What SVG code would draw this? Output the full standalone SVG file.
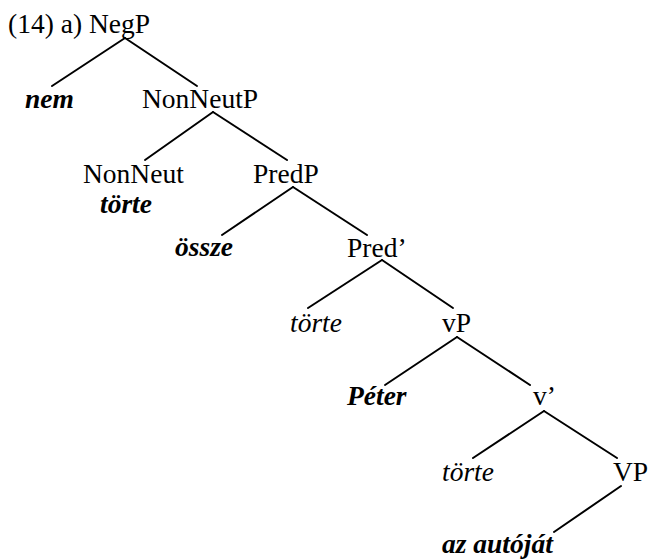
<svg xmlns="http://www.w3.org/2000/svg" width="650" height="560" viewBox="0 0 650 560">
<style>
text{font-family:"Liberation Serif","Times New Roman",serif;font-size:27.5px;fill:#000}
.bi{font-weight:bold;font-style:italic}
.i{font-style:italic}
.e line{stroke:#000;stroke-width:2;stroke-linecap:round}
</style>
<rect width="650" height="560" fill="#fff"/>
<g id="connectors" class="e">
<line x1="125" y1="38" x2="52" y2="86"/>
<line x1="125" y1="38" x2="197" y2="86"/>
<line x1="213" y1="112" x2="145" y2="160"/>
<line x1="213" y1="112" x2="287" y2="160"/>
<line x1="293" y1="187" x2="222" y2="235"/>
<line x1="293" y1="187" x2="367" y2="235"/>
<line x1="382" y1="260" x2="308" y2="308"/>
<line x1="382" y1="260" x2="453" y2="308"/>
<line x1="457" y1="337" x2="385" y2="385"/>
<line x1="457" y1="337" x2="530" y2="385"/>
<line x1="544" y1="411" x2="473" y2="458"/>
<line x1="544" y1="411" x2="617" y2="458"/>
<line x1="621" y1="486" x2="554" y2="532"/>
</g>
<g id="label"><text x="8" y="33">(14) a) NegP</text></g>
<g id="nem"><text class="bi" x="25" y="108">nem</text></g>
<g id="NonNeutP"><text x="142" y="108">NonNeutP</text></g>
<g id="NonNeut"><text x="83" y="183">NonNeut</text><text class="bi" x="100" y="213">törte</text></g>
<g id="PredP"><text x="253" y="183">PredP</text></g>
<g id="ossze"><text class="bi" x="175" y="256">össze</text></g>
<g id="PredBar"><text x="347" y="257">Pred’</text></g>
<g id="torte1"><text class="i" x="290" y="332">törte</text></g>
<g id="vP"><text x="442" y="332">vP</text></g>
<g id="Peter"><text class="bi" x="347" y="405">Péter</text></g>
<g id="vBar"><text x="533" y="405">v’</text></g>
<g id="torte2"><text class="i" x="442" y="481">törte</text></g>
<g id="VP"><text x="613" y="481">VP</text></g>
<g id="autojat"><text class="bi" x="442" y="553">az autóját</text></g>
</svg>
